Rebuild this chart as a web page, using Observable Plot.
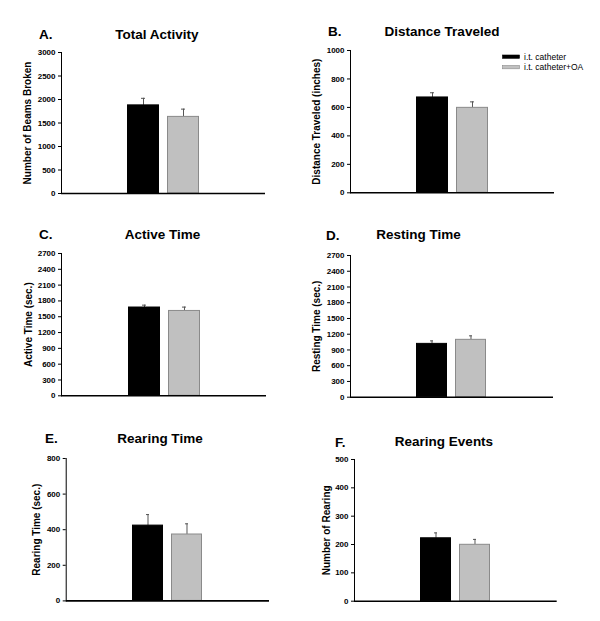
<!DOCTYPE html>
<html><head><meta charset="utf-8">
<script src="https://cdn.jsdelivr.net/npm/d3@7"></script>
<script src="https://cdn.jsdelivr.net/npm/@observablehq/plot@0.6"></script>
<style>
body{margin:0;background:#fff;}
#wrap{position:relative;width:600px;height:621px;overflow:hidden;background:#fff;font-family:"Liberation Sans",Arial,sans-serif;}
#wrap svg{position:absolute;}
</style></head><body><div id="wrap"></div>
<script>
// ---- data ----
const groups = ["i.t. catheter", "i.t. catheter+OA"];
const panelLetters = ["A.", "B.", "C.", "D.", "E.", "F."];
const panelTitles = ["Total Activity", "Distance Traveled", "Active Time", "Resting Time", "Rearing Time", "Rearing Events"];
const yLabels = ["Number of Beams Broken", "Distance Traveled (inches)", "Active Time (sec.)", "Resting Time (sec.)", "Rearing Time (sec.)", "Number of Rearing"];
const meanValues = [[1875, 1630], [670, 597], [1675, 1610], [1016, 1093], [423, 373], [222, 199]];
const semValues = [[150, 165], [33, 42], [45, 73], [57, 76], [62, 60], [19, 19]];
const yMax = [3000, 1000, 2700, 2700, 800, 500];
const yTicks = [
  [0, 500, 1000, 1500, 2000, 2500, 3000],
  [0, 200, 400, 600, 800, 1000],
  [0, 300, 600, 900, 1200, 1500, 1800, 2100, 2400, 2700],
  [0, 300, 600, 900, 1200, 1500, 1800, 2100, 2400, 2700],
  [0, 200, 400, 600, 800],
  [0, 100, 200, 300, 400, 500]
];

// ---- styles / layout ----
const FONT = '"Liberation Sans", Arial, sans-serif';
const fills = ["#000000", "#c0c0c0"];
const strokes = ["#000000", "#8a8a8a"];
const errColor = "#555555";
const layout = [
  {left: 0,   axisX: 61,    axisRight: 265,   yTop: 51.7,  yBottom: 192.7, labelDx: -34,
   letter: [39, 39], title: [157, 39]},
  {left: 300, axisX: 350,   axisRight: 554,   yTop: 50,    yBottom: 192.3, labelDx: -33.5,
   letter: [328, 36], title: [442, 36]},
  {left: 0,   axisX: 61,    axisRight: 266,   yTop: 252.7, yBottom: 395,   labelDx: -33,
   letter: [39, 239], title: [162.5, 239]},
  {left: 300, axisX: 350,   axisRight: 553,   yTop: 255,   yBottom: 396.7, labelDx: -34,
   letter: [326, 240], title: [418.5, 239]},
  {left: 0,   axisX: 65.7,  axisRight: 269,   yTop: 458.3, yBottom: 600.7, labelDx: -29,
   letter: [45, 443], title: [160, 443]},
  {left: 300, axisX: 354,   axisRight: 556.7, yTop: 459,   yBottom: 600.7, labelDx: -28,
   letter: [335, 446.5], title: [444, 446]}
];

const wrap = document.getElementById("wrap");
const PAD = 12;

layout.forEach((L, i) => {
  const rows = groups.map((g, j) => ({group: g, idx: j, value: meanValues[i][j], sem: semValues[i][j]}));
  const H = (L.yBottom - L.yTop) + 2 * PAD;
  const marks = [
    Plot.axisY({ticks: yTicks[i], tickSize: 3, tickPadding: 3, tickFormat: d3.format("d"), label: null,
                fontSize: 8, fontWeight: "bold"}),
    Plot.frame({anchor: "left", stroke: "#000", strokeWidth: 1})
  ];
  groups.forEach((g, j) => {
    marks.push(Plot.ruleX(rows.filter(r => r.idx === j), {x: "group", y1: "value", y2: d => d.value + d.sem, stroke: errColor, strokeWidth: 1}));
    marks.push(Plot.tickY(rows.filter(r => r.idx === j), {x: "group", y: d => d.value + d.sem, stroke: errColor, strokeWidth: 1, insetLeft: 14, insetRight: 14}));
    marks.push(Plot.barY(rows.filter(r => r.idx === j), {x: "group", y: "value", fill: fills[j], stroke: strokes[j], strokeWidth: 1, insetLeft: 0.5, insetRight: 0.5}));
  });
  marks.push(Plot.ruleY([0], {stroke: "#000", strokeWidth: 1.6}));
  marks.push(Plot.text([yLabels[i]], {text: d => d, frameAnchor: "left", textAnchor: "middle", lineAnchor: "middle",
                                      rotate: -90, dx: L.labelDx,
                                      fontSize: 10, fontWeight: "bold", fill: "#000"}));
  const svg = Plot.plot({
    width: 300,
    height: H,
    marginLeft: L.axisX - L.left,
    marginRight: 300 - (L.axisRight - L.left),
    marginTop: PAD,
    marginBottom: PAD,
    x: {domain: groups, axis: null, paddingInner: 0.2, paddingOuter: 1.65},
    y: {domain: [0, yMax[i]]},
    style: {fontFamily: FONT, fontSize: "8px", fontWeight: "bold", background: "transparent", overflow: "visible", color: "#000"},
    marks
  });
  svg.style.left = L.left + "px";
  svg.style.top = (L.yTop - PAD) + "px";
  wrap.appendChild(svg);
});

// ---- titles and legend overlay ----
const ov = d3.select(wrap).append("svg")
  .attr("width", 600).attr("height", 621)
  .style("left", "0px").style("top", "0px")
  .style("font-family", FONT);
layout.forEach((L, i) => {
  ov.append("text").attr("x", L.letter[0]).attr("y", L.letter[1])
    .attr("font-size", 13.5).attr("font-weight", "bold").text(panelLetters[i]);
  ov.append("text").attr("x", L.title[0]).attr("y", L.title[1]).attr("text-anchor", "middle")
    .attr("font-size", 13.5).attr("font-weight", "bold").text(panelTitles[i]);
});
const legendPos = [{y: 55, ty: 60}, {y: 65.5, ty: 70.3}];
groups.forEach((g, j) => {
  ov.append("rect").attr("x", 502.5).attr("y", legendPos[j].y).attr("width", 17).attr("height", 3.3)
    .attr("fill", fills[j]).attr("stroke", strokes[j]).attr("stroke-width", 0.6);
  ov.append("text").attr("x", 524).attr("y", legendPos[j].ty).attr("font-size", 8.5).text(g);
});
</script>
</body></html>
